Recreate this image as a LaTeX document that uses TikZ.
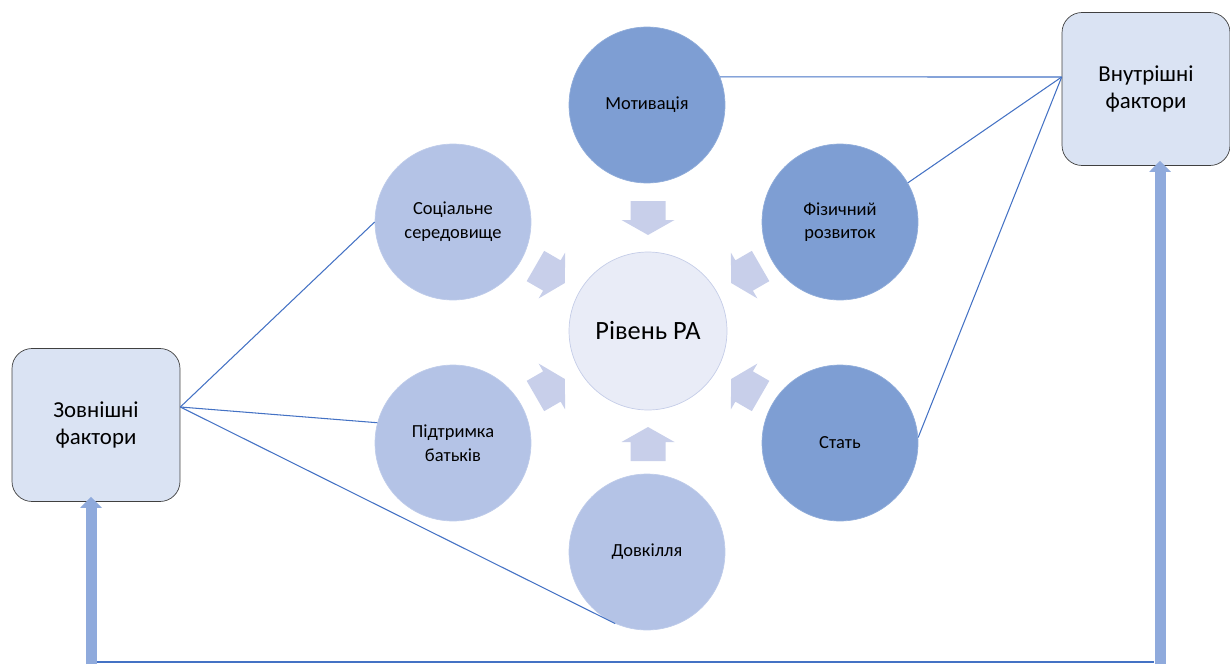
\documentclass[tikz,border=0pt]{standalone}
\usepackage{fontspec}
\setmainfont{Carlito}
\usepackage{tikz}
\usetikzlibrary{arrows.meta, calc, positioning}
\definecolor{ballDark}{RGB}{126,158,211}
\definecolor{ballLight}{RGB}{180,195,230}
\definecolor{coreFill}{RGB}{233,236,247}
\definecolor{coreEdge}{RGB}{197,205,232}
\definecolor{flowFill}{RGB}{200,207,234}
\definecolor{boxFill}{RGB}{218,227,243}
\definecolor{linkBlue}{RGB}{68,114,196}
\definecolor{feedBlue}{RGB}{143,170,220}
\tikzstyle{ball}  = [circle, minimum size=3.12cm, inner sep=0pt, align=center,
                     font=\fontsize{10.5}{13.5}\selectfont]
\tikzstyle{darkball}  = [ball, fill=ballDark, draw=ballDark!85!white]
\tikzstyle{lightball} = [ball, fill=ballLight, draw=ballLight!85!white]
\tikzstyle{core}  = [circle, minimum size=3.16cm, fill=coreFill, draw=coreEdge,
                     font=\fontsize{15}{18}\selectfont]
\tikzstyle{block} = [rectangle, draw=black!75, fill=boxFill, rounded corners=0.4cm,
                     minimum width=3.36cm, minimum height=3.06cm, align=center,
                     font=\fontsize{13}{15.5}\selectfont]
\tikzstyle{flow}  = [fill=flowFill]
\tikzstyle{link}  = [draw=linkBlue, line width=0.6pt]
\tikzstyle{feed}  = [draw=feedBlue, line width=0.22cm,
                     -{Triangle[width=0.42cm, length=0.22cm]}]

\begin{document}
\begin{tikzpicture}[x=0.02cm, y=0.02cm]
    \useasboundingbox (0,0) rectangle (1230,664);

    \node (lvl)  at (648, 333) [core]      {Рівень РА};
    \node (mot)  at (647, 559) [darkball]  {Мотивація};
    \node (fiz)  at (840, 442) [darkball]  {Фізичний\\розвиток};
    \node (stat) at (840, 221) [darkball]  {Стать};
    \node (soc)  at (453, 442) [lightball] {Соціальне\\середовище};
    \node (pid)  at (453, 221) [lightball] {Підтримка\\батьків};
    \node (dov)  at (647, 112) [lightball] {Довкілля};

    \node (zov)  at (96, 239)   [block] {Зовнішні\\фактори};
    \node (vnu)  at (1146, 575) [block] {Внутрішні\\фактори};

    % arrows towards the centre
    \foreach \a in {90,150,...,420}
        \fill [flow, shift={($(lvl)+(\a:113)$)}, rotate=\a+180]
            (-17,-17.5) -- (2,-17.5) -- (2,-26.5) -- (17,0)
            -- (2,26.5) -- (2,17.5) -- (-17,17.5) -- cycle;

    % links to the factor boxes
    \coordinate (zp) at ($(zov.east)+(0,18)$);
    \coordinate (vp) at ($(vnu.west)+(0,12)$);
    \draw [link] (zp) -- (soc.west);
    \draw [link] (zp) -- (pid.165);
    \draw [link] (zp) -- (dov.246);
    \draw [link] (vp) -- (mot.21);
    \draw [link] (vp) -- (fiz.30);
    \draw [link] (vp) -- (stat.4);

    % feedback at the bottom
    \coordinate (bl) at (91, 0);
    \coordinate (br) at (1160, 0);
    \draw [link, line width=1.2pt] ($(bl)+(6,2)$) -- ($(br)+(-6,2)$);
    \draw [feed] (bl) -- ($(bl |- zov.south)+(0,5)$);
    \draw [feed] (br) -- ($(br |- vnu.south)+(0,5)$);
\end{tikzpicture}
\end{document}
